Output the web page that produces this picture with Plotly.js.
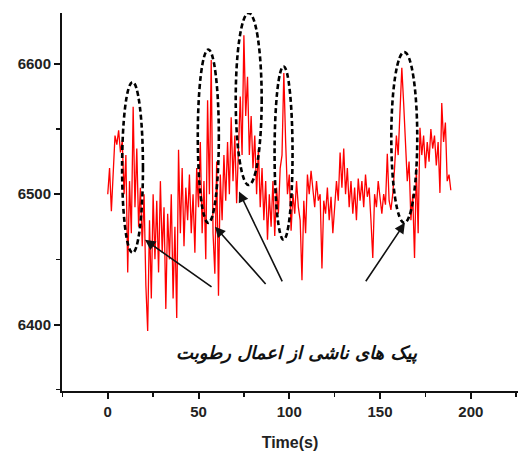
<!DOCTYPE html>
<html>
<head>
<meta charset="utf-8">
<script src="https://cdn.plot.ly/plotly-3.0.1.min.js"></script>
<style>html,body{margin:0;padding:0;background:#fff;}#chart{width:518px;height:454px;}</style>
</head>
<body>
<div id="chart"></div>
<script>
// time (s)
var timeS = [0,1,2,3,4,5,6,7,8,9,10,11,12,13,14,15,16,17,18,19,20,21,22,23,24,25,26,27,28,29,
30,31,32,33,34,35,36,37,38,39,40,41,42,43,44,45,46,47,48,49,50,51,52,53,54,55,56,57,58,59,
60,61,62,63,64,65,66,67,68,69,70,71,72,73,74,75,76,77,78,79,80,81,82,83,84,85,86,87,88,89,
90,91,92,93,94,95,96,97,98,99,100,101,102,103,104,105,106,107,108,109,110,111,112,113,114,115,116,117,118,119,
120,121,122,123,124,125,126,127,128,129,130,131,132,133,134,135,136,137,138,139,140,141,142,143,144,145,146,147,148,149,
150,151,152,153,154,155,156,157,158,159,160,161,162,163,164,165,166,167,168,169,170,171,172,173,174,175,176,177,178,179,
180,181,182,183,184,185,186,187,188,189];
// sensor signal
var signal = [6500,6520,6487,6515,6545,6538,6549,6532,6541,6500,6530,6440,6510,6470,6567,6490,6535,6475,6505,6460,
6500,6430,6395,6480,6420,6500,6450,6495,6440,6510,6455,6490,6412,6485,6450,6500,6420,6475,6405,6534,
6470,6520,6460,6505,6480,6515,6470,6500,6455,6520,6490,6540,6470,6510,6450,6572,6500,6603,6470,6439,
6525,6422,6515,6480,6530,6495,6540,6500,6559,6510,6545,6493,6540,6575,6530,6622,6560,6590,6530,6560,
6520,6545,6500,6535,6490,6520,6480,6510,6465,6500,6475,6510,6468,6505,6485,6520,6530,6593,6540,6500,
6515,6472,6500,6485,6510,6490,6480,6434,6495,6470,6515,6500,6518,6505,6490,6510,6495,6500,6443,6495,
6485,6505,6480,6498,6470,6490,6510,6495,6532,6505,6535,6500,6520,6490,6510,6485,6505,6480,6512,6495,
6510,6490,6515,6498,6505,6480,6451,6500,6490,6510,6495,6485,6500,6492,6531,6495,6488,6500,6520,6545,
6530,6560,6597,6570,6540,6510,6525,6480,6500,6451,6520,6470,6551,6530,6545,6520,6540,6525,6550,6535,
6545,6522,6540,6501,6570,6540,6555,6510,6515,6503];
// peak regions (ellipses)
var peakT0 = [7.9, 49.6, 70.5, 91.9, 156.2];
var peakT1 = [19.4, 61.2, 84.8, 101.8, 170.5];
var peakV0 = [6455, 6478, 6507, 6465, 6478];
var peakV1 = [6586, 6611, 6639, 6598, 6609];
// arrows: head (t,v) and tail (t,v)
var arrHeadT = [20.5, 59.1, 72.3, 163.7];
var arrHeadV = [6465, 6475, 6502, 6478];
var arrTailT = [58.0, 87.7, 96.5, 141.6];
var arrTailV = [6428, 6430, 6432, 6432];
var labelText = 'پیک های ناشی از اعمال رطوبت';
var xTitle = 'Time(s)';

var shapes = peakT0.map(function(t0, i){
  return {type:'circle', xref:'x', yref:'y', x0:t0, x1:peakT1[i], y0:peakV0[i], y1:peakV1[i],
    line:{color:'#000', width:2.6, dash:'5px,3px'}, layer:'above'};
});
var annotations = arrHeadT.map(function(t, i){
  return {x:t, y:arrHeadV[i], ax:arrTailT[i], ay:arrTailV[i], axref:'x', ayref:'y', xref:'x', yref:'y',
    text:'', showarrow:true, arrowhead:2, arrowsize:1.3, arrowwidth:1.6, arrowcolor:'#111', standoff:0};
});
annotations.push({x:104, y:6378, xref:'x', yref:'y', text:labelText, showarrow:false,
  font:{family:'DejaVu Sans', size:18, color:'#111', style:'italic', weight:'bold'}});

var tickFont = {family:'Liberation Sans, Arial', size:15, color:'#222', weight:'bold'};
var layout = {
  width:518, height:454,
  margin:{l:62, r:0, t:13, b:63},
  paper_bgcolor:'#fff', plot_bgcolor:'#fff',
  showlegend:false,
  xaxis:{range:[-25.2,226], tickvals:[0,50,100,150,200], ticks:'outside', ticklen:6, tickwidth:2, tickcolor:'#111',
    showline:true, linecolor:'#111', linewidth:2, showgrid:false, zeroline:false, tickfont:tickFont,
    minor:{tickvals:[-25,25,75,125,175,225], ticks:'outside', ticklen:4, tickwidth:1.5, tickcolor:'#111'},
    title:{text:xTitle, font:{family:'Liberation Sans, Arial', size:16, color:'#222', weight:'bold'}, standoff:18}},
  yaxis:{range:[6349,6639], tickvals:[6400,6500,6600], ticks:'outside', ticklen:6, tickwidth:2, tickcolor:'#111',
    showline:true, linecolor:'#111', linewidth:2, showgrid:false, zeroline:false, tickfont:tickFont,
    minor:{tickvals:[6350,6450,6550], ticks:'outside', ticklen:4, tickwidth:1.5, tickcolor:'#111'}},
  shapes:shapes,
  annotations:annotations
};
Plotly.newPlot('chart', [{x:timeS, y:signal, type:'scatter', mode:'lines',
  line:{color:'#ff0000', width:1.3}}], layout, {staticPlot:true});
</script>
</body>
</html>
